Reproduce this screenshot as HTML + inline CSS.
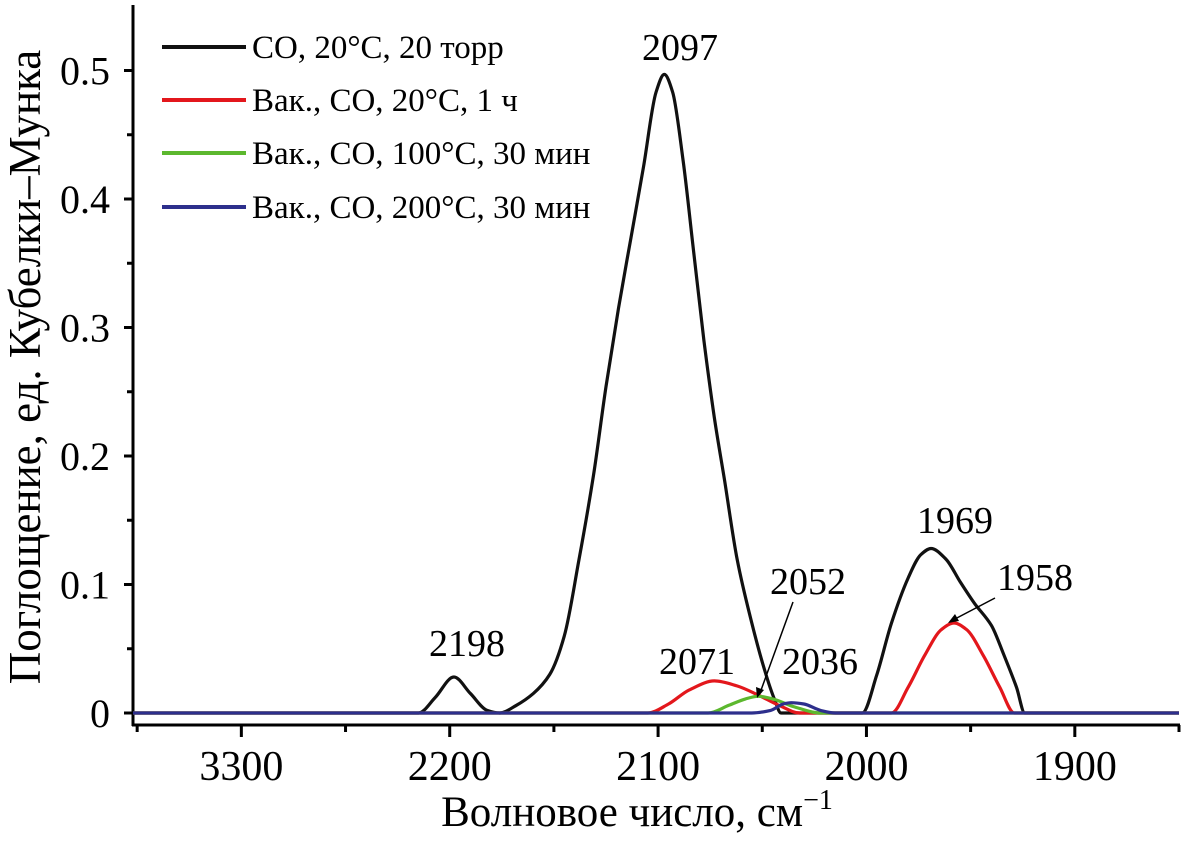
<!DOCTYPE html>
<html><head><meta charset="utf-8"><style>
html,body{margin:0;padding:0;background:#fff}
svg{display:block;font-family:"Liberation Serif","DejaVu Serif",serif}
</style></head><body>
<svg id="chart" width="1188" height="844" viewBox="0 0 1188 844">
<g id="axes"></g>
<g id="series"></g>
<g id="legend"></g>
<g id="annot"></g>
<text x="637" y="826" font-size="43" text-anchor="middle">Волновое число, см<tspan dy="-17" font-size="28">−1</tspan></text>
<text transform="translate(40,367) rotate(-90)" font-size="45" text-anchor="middle">Поглощение, ед. Кубелки–Мунка</text>
</svg>
<script>
const xTickValues=[2300,2200,2100,2000,1900];
const xTickLabels=["3300","2200","2100","2000","1900"];
const yTickValues=[0,0.1,0.2,0.3,0.4,0.5];
const yTickLabels=["0","0.1","0.2","0.3","0.4","0.5"];
const seriesNames=["CO, 20°C, 20 торр","Вак., CO, 20°C, 1 ч","Вак., CO, 100°C, 30 мин","Вак., CO, 200°C, 30 мин"];
const blackWn=[2352,2215,2207,2198,2190,2182,2176,2168,2160,2152,2145,2138,2131,2125,2119,2113,2107,2101,2097,2093,2088,2083,2078,2073,2068,2062,2055,2049,2044,2041,2002,1995,1988,1980,1974,1969,1962,1955,1948,1940,1934,1928,1924,1850];
const blackVal=[0,0,0.012,0.028,0.015,0.002,0,0.006,0.015,0.03,0.06,0.119,0.185,0.254,0.315,0.37,0.425,0.483,0.497,0.483,0.43,0.36,0.29,0.23,0.18,0.119,0.07,0.034,0.01,0,0,0.03,0.07,0.105,0.123,0.128,0.12,0.102,0.085,0.068,0.045,0.02,0,0];
const redWn=[2352,2105,2095,2085,2073,2062,2052,2042,2032,1988,1980,1972,1964,1958,1952,1944,1936,1929,1850];
const redVal=[0,0,0.007,0.018,0.025,0.021,0.014,0.006,0,0,0.02,0.045,0.065,0.07,0.065,0.045,0.02,0,0];
const greenWn=[2352,2076,2066,2058,2052,2045,2035,2022,1850];
const greenVal=[0,0,0.006,0.011,0.013,0.011,0.005,0,0];
const blueWn=[2352,2055,2046,2040,2036,2030,2022,2015,1850];
const blueVal=[0,0,0.002,0.007,0.008,0.007,0.002,0,0];
const peakLabels=["2198","2097","2071","2052","2036","1969","1958"];

const NS="http://www.w3.org/2000/svg";
const X0=133,X1=1179,V0=2352,V1=1850;
const xs=v=>X0+(V0-v)*(X1-X0)/(V0-V1);
const ys=a=>713-a*1285;
function mk(tag,attrs,parent){const e=document.createElementNS(NS,tag);for(const k in attrs)e.setAttribute(k,attrs[k]);parent.appendChild(e);return e;}
const axes=document.getElementById('axes');
let el=mk('line',{x1:X0,y1:5,x2:X0,y2:726,stroke:'#000','stroke-width':3},axes);


el=mk('line',{x1:X0-1,y1:725,x2:X1+1,y2:725,stroke:'#000','stroke-width':3},axes);


for(let i=0;i<11;i++){const a=i*0.05;const y=ys(a);const L=(i%2==0)?9:6;
 el=mk('line',{x1:X0-L,y1:y,x2:X0,y2:y,stroke:'#000','stroke-width':3},axes);
 
 }
yTickValues.forEach((v,i)=>{el=mk('text',{x:110,y:ys(v)+14,'font-size':40,'text-anchor':'end'},axes);el.textContent=yTickLabels[i];
 
 });
for(let v=2350;v>=1850;v-=50){const x=xs(v);const L=(v%100==0)?12:7;
 el=mk('line',{x1:x,y1:725,x2:x,y2:725+L,stroke:'#000','stroke-width':3},axes);
 
 }
xTickValues.forEach((v,i)=>{el=mk('text',{x:xs(v),y:780,'font-size':42,'text-anchor':'middle'},axes);el.textContent=xTickLabels[i];
 
 });

function pathD(wn,val){
 const p=wn.map((w,i)=>[xs(w),ys(val[i])]);const n=p.length;
 const dl=[],m=[];
 for(let i=0;i<n-1;i++)dl.push((p[i+1][1]-p[i][1])/(p[i+1][0]-p[i][0]));
 m[0]=dl[0];m[n-1]=dl[n-2];
 for(let i=1;i<n-1;i++){m[i]=(dl[i-1]*dl[i]<=0)?0:2/(1/dl[i-1]+1/dl[i]);}
 let d='M'+p[0][0].toFixed(1)+','+p[0][1].toFixed(1);
 for(let i=0;i<n-1;i++){const h=(p[i+1][0]-p[i][0])/3;
  d+=' C'+(p[i][0]+h).toFixed(1)+','+(p[i][1]+m[i]*h).toFixed(1)+' '+(p[i+1][0]-h).toFixed(1)+','+(p[i+1][1]-m[i+1]*h).toFixed(1)+' '+p[i+1][0].toFixed(1)+','+p[i+1][1].toFixed(1);}
 return d;}
const colors=['#111','#e3171c','#5cb82e','#2d2f8c'];
const sg=document.getElementById('series');
const data=[[blackWn,blackVal],[redWn,redVal],[greenWn,greenVal],[blueWn,blueVal]];
const snames=['series-co-20c-20torr','series-vac-20c-1h','series-vac-100c-30min','series-vac-200c-30min'];
[0,1,2,3].forEach(i=>{el=mk('path',{d:pathD(data[i][0],data[i][1]),fill:'none',stroke:colors[i],'stroke-width':3.2,'stroke-linejoin':'round'},sg);
 
 });

const lg=document.getElementById('legend');
const ly=[47,100,153,207];
seriesNames.forEach((n,i)=>{
 el=mk('line',{x1:162,y1:ly[i],x2:246,y2:ly[i],stroke:colors[i],'stroke-width':4},lg);
 
 
 el=mk('text',{x:252,y:ly[i]+11,'font-size':33},lg);el.textContent=n;
 
 });

const an=document.getElementById('annot');
const lp=[[467,656],[680,60],[697,674],[808,594],[820,674],[955,533],[1035,590]];
peakLabels.forEach((t,i)=>{el=mk('text',{x:lp[i][0],y:lp[i][1],'font-size':38,'text-anchor':'middle'},an);el.textContent=t;
 
 });
el=mk('line',{x1:793,y1:602,x2:760,y2:693,stroke:'#000','stroke-width':1.5},an);


el=mk('polygon',{points:'757,698 756,687 764,690',fill:'#000'},an);


el=mk('line',{x1:995,y1:598,x2:953,y2:620,stroke:'#000','stroke-width':1.5},an);


el=mk('polygon',{points:'948,623 955,614 959,621',fill:'#000'},an);


</script>
</body></html>
